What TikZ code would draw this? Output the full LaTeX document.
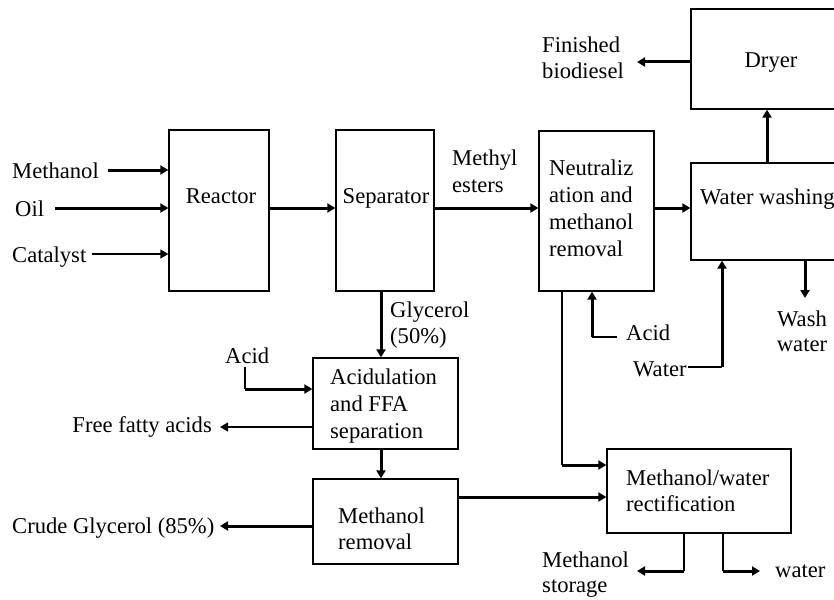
\documentclass[tikz,border=0pt]{standalone}
\usepackage{fontspec}
\setmainfont{Liberation Serif}
\usetikzlibrary{arrows.meta}
\begin{document}
\begin{tikzpicture}[x=1pt,y=-1pt,
  box/.style={draw,line width=1.3pt,inner sep=0pt},
  txt/.style={inner sep=0pt,font=\fontsize{22.6}{27}\selectfont},
  mtxt/.style={txt,align=left,anchor=north west},
  thk/.style={line width=3pt},
  thn/.style={line width=1.3pt},
  tip/.style={-{Triangle[length=8pt,width=9pt]}}]
\useasboundingbox (0,0) rectangle (834,599);
% boxes
\node[box,minimum width=100pt,minimum height=161pt] (reactor) at (219,210.5) {};
\node[box,minimum width=98pt,minimum height=161pt] (separator) at (385,210.5) {};
\node[box,minimum width=115pt,minimum height=160pt] (neutral) at (596.5,211) {};
\node[box,minimum width=149pt,minimum height=97pt] (washing) at (765.5,211.5) {};
\node[box,minimum width=149pt,minimum height=100pt] (dryer) at (765.5,59) {};
\node[box,minimum width=145pt,minimum height=91pt] (acidul) at (385.5,403.5) {};
\node[box,minimum width=145pt,minimum height=85pt] (mremoval) at (385.5,521.5) {};
\node[box,minimum width=184pt,minimum height=84pt] (rectif) at (699,491) {};
% box texts
\node[txt,anchor=base] (reactorT) at (221,203) {Reactor};
\node[txt,anchor=base] (separatorT) at (386,203) {Separator};
\node[mtxt] (neutralT) at (549,160) {Neutraliz\\ation and\\methanol\\removal};
\node[txt,anchor=base west] (washingT) at (700,204) {Water washing};
\node[txt,anchor=base] (dryerT) at (771,68) {Dryer};
\node[mtxt] (acidulT) at (330,369) {Acidulation\\and FFA\\separation};
\node[mtxt,font=\fontsize{22.6}{25.5}\selectfont] (mremovalT) at (338,508) {Methanol\\removal};
\node[mtxt,font=\fontsize{22.6}{25.5}\selectfont] (rectifT) at (626,470) {Methanol/water\\rectification};
% stream labels
\node[txt,anchor=base west] (methanolL) at (12,178) {Methanol};
\node[txt,anchor=base west] (oilL) at (15,216) {Oil};
\node[txt,anchor=base west] (catalystL) at (12,262) {Catalyst};
\node[mtxt] (esterL) at (452,150) {Methyl\\esters};
\node[mtxt,font=\fontsize{22.6}{26}\selectfont] (finishedL) at (542,37) {Finished\\biodiesel};
\node[txt,anchor=base west] (acid1L) at (626,340) {Acid};
\node[txt,anchor=base west] (waterinL) at (633,376) {Water};
\node[txt,align=center,anchor=north,font=\fontsize{22.6}{25}\selectfont] (washwaterL) at (802,311) {Wash\\water};
\node[mtxt,font=\fontsize{22.6}{25.5}\selectfont] (glycerolL) at (390,302) {Glycerol\\(50\%)};
\node[txt,anchor=base west] (acid2L) at (225,363) {Acid};
\node[txt,anchor=base east] (ffaL) at (212,432) {Free fatty acids};
\node[txt,anchor=base west] (crudeL) at (12,533) {Crude Glycerol (85\%)};
\node[mtxt,font=\fontsize{22.6}{24.5}\selectfont] (mstorageL) at (542,552) {Methanol\\storage};
\node[txt,anchor=base west] (waterL) at (775,577) {water};
% coordinates
\coordinate (m0) at (108,170);
\coordinate (o0) at (55,208);
\coordinate (c0) at (92,254);
\coordinate (fb) at (637,62);
\coordinate (a1) at (617,337);
\coordinate (a1c) at (592,337);
\coordinate (w0) at (688,367);
\coordinate (w1) at (722,367);
\coordinate (ww) at (805,298);
\coordinate (a2) at (245,367);
\coordinate (a2c) at (245,389);
\coordinate (ffa) at (220,427);
\coordinate (cg) at (220,526);
\coordinate (nc) at (562,465);
\coordinate (ms1) at (684,571);
\coordinate (ms) at (637,571);
\coordinate (wa1) at (723,571);
\coordinate (wa) at (760,571);
% connectors
\draw[thk,tip] (m0) -- (reactor.west |- m0);
\draw[thk,tip] (o0) -- (reactor.west |- o0);
\draw[thn,tip] (c0) -- (reactor.west |- c0);
\draw[thk,tip] (reactor.east |- 0,208) -- (separator.west |- 0,208);
\draw[thk,tip] (separator.east |- 0,208) -- (neutral.west |- 0,208);
\draw[thk,tip] (neutral.east |- 0,208) -- (washing.west |- 0,208);
\draw[thk,tip] (washing.north -| 767,0) -- (dryer.south -| 767,0);
\draw[thk,tip] (dryer.west |- fb) -- (fb);
\draw[thk,tip] (washing.south -| ww) -- (ww);
\draw[thn] (a1) -- (a1c);
\draw[thk,tip] (a1c) -- (neutral.south -| a1c);
\draw[thn] (w0) -- (w1);
\draw[thk,tip] (w1) -- (washing.south -| w1);
\draw[thk,tip] (separator.south -| 381,0) -- (acidul.north -| 381,0);
\draw[thn] (a2) -- (a2c);
\draw[thk,tip] (a2c) -- (acidul.west |- a2c);
\draw[thn,tip] (acidul.west |- ffa) -- (ffa);
\draw[thk,tip] (acidul.south -| 381,0) -- (mremoval.north -| 381,0);
\draw[thk,tip] (mremoval.west |- cg) -- (cg);
\draw[thk,tip] (mremoval.east |- 0,497) -- (rectif.west |- 0,497);
\draw[thn] (neutral.south -| nc) -- (nc);
\draw[thk,tip] (nc) -- (rectif.west |- nc);
\draw[thn] (rectif.south -| ms1) -- (ms1);
\draw[thk,tip] (ms1) -- (ms);
\draw[thn] (rectif.south -| wa1) -- (wa1);
\draw[thk,tip] (wa1) -- (wa);
\end{tikzpicture}
\end{document}
